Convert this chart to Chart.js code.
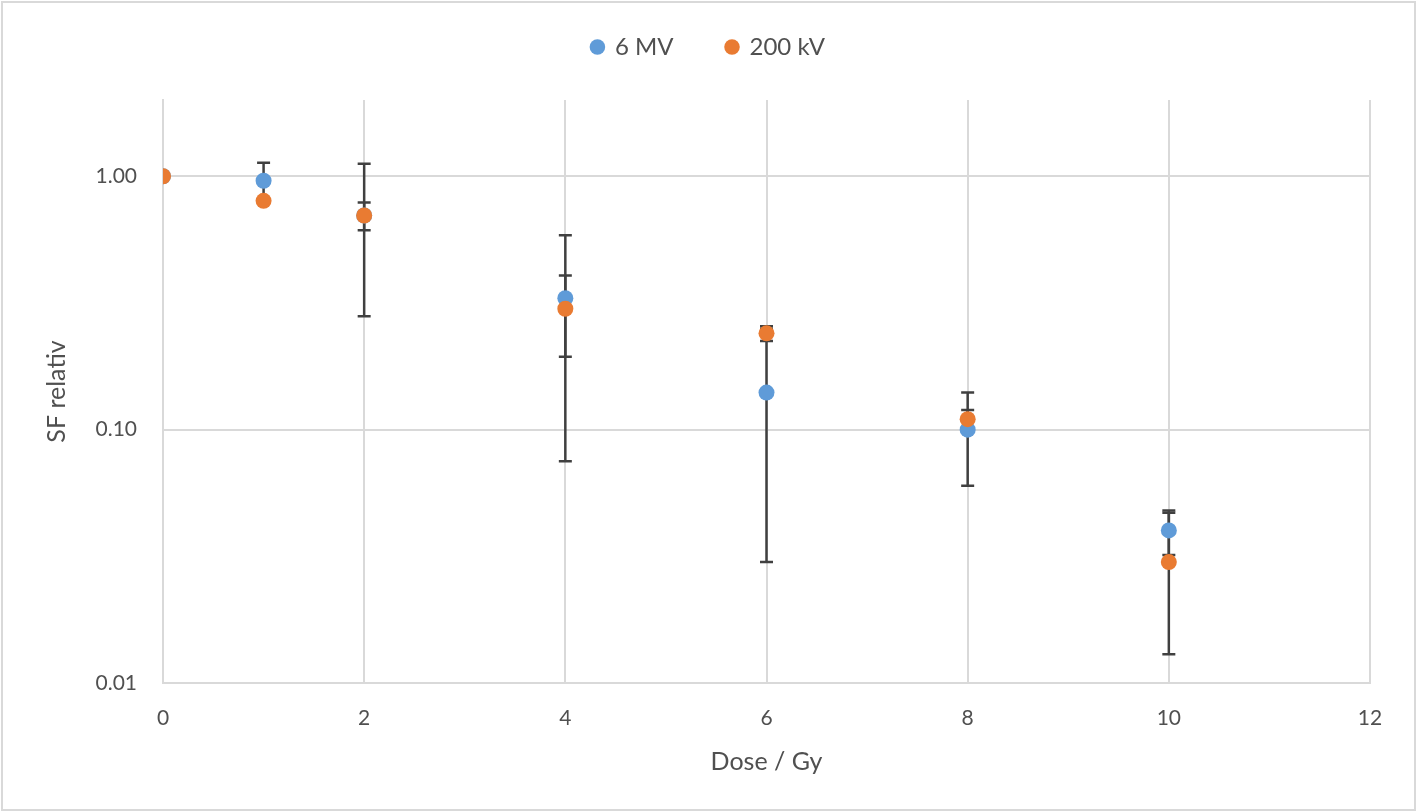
<!DOCTYPE html>
<html><head><meta charset="utf-8">
<script src="https://cdn.jsdelivr.net/npm/chart.js@4.4.1/dist/chart.umd.min.js"></script>
<style>html,body{margin:0;padding:0;background:#fff;}#wrap{width:1417px;height:812px;position:relative;}</style>
</head><body><div id="wrap"><canvas id="c" width="1417" height="812"></canvas></div>
<script>
// ---- data ----
const doses = [0, 1, 2, 4, 6, 8, 10];
const sf6MV = [1.00, 0.96, 0.70, 0.33, 0.14, 0.10, 0.040];
const err6MV = [0, 0.17, 0.42, 0.255, 0.11, 0.040, 0.008];
const sf200kV = [1.00, 0.80, 0.70, 0.30, 0.24, 0.110, 0.030];
const err200kV = [0, 0, 0.088, 0.106, 0.016, 0.0095, 0.017];
const seriesNames = ['6 MV', '200 kV'];
const xTicks = [0, 2, 4, 6, 8, 10, 12];
const yTicks = [0.01, 0.1, 1];
const xTitle = 'Dose / Gy';
const yTitle = 'SF relativ';

const textColor = '#505050';
const gridColor = '#d9d9d9';
Chart.defaults.font.family = 'Lato, "Open Sans", sans-serif';
Chart.defaults.color = textColor;

const toPoints = (xs, ys) => xs.map((x, i) => ({x: x, y: ys[i]}));

const errorBars = {
  id: 'errorBars',
  beforeDatasetsDraw(chart) {
    const {ctx, scales: {x, y}} = chart;
    ctx.save();
    ctx.strokeStyle = '#404040';
    ctx.lineWidth = 2.5;
    chart.data.datasets.forEach(ds => {
      ds.data.forEach((p, i) => {
        const e = ds.errors[i];
        if (!e) return;
        const px = x.getPixelForValue(p.x);
        const yt = y.getPixelForValue(p.y + e);
        const yb = y.getPixelForValue(p.y - e);
        ctx.beginPath();
        ctx.moveTo(px, yt); ctx.lineTo(px, yb);
        ctx.moveTo(px - 6.5, yt); ctx.lineTo(px + 6.5, yt);
        ctx.moveTo(px - 6.5, yb); ctx.lineTo(px + 6.5, yb);
        ctx.stroke();
      });
    });
    ctx.restore();
  }
};

const frame = {
  id: 'frame',
  beforeDraw(chart) {
    const ctx = chart.ctx;
    ctx.save();
    ctx.fillStyle = '#ffffff';
    ctx.fillRect(0, 0, chart.width, chart.height);
    ctx.strokeStyle = '#d9d9d9';
    ctx.lineWidth = 2;
    ctx.strokeRect(2, 2, chart.width - 4, chart.height - 4);
    ctx.restore();
  }
};

const legendHeight = {
  id: 'legendHeight',
  afterInit(chart) {
    const lg = chart.legend;
    const origFit = lg.fit;
    lg.fit = function () { origFit.call(this); this.height = 118; };
  }
};

new Chart(document.getElementById('c'), {
  type: 'scatter',
  data: {
    datasets: [
      {label: seriesNames[0], data: toPoints(doses, sf6MV), errors: err6MV,
       backgroundColor: '#5f9bd8', borderColor: '#5f9bd8', pointRadius: 8, pointHoverRadius: 8,
       pointStyle: 'circle', borderWidth: 0, order: 2},
      {label: seriesNames[1], data: toPoints(doses, sf200kV), errors: err200kV,
       backgroundColor: '#e97b32', borderColor: '#e97b32', pointRadius: 8, pointHoverRadius: 8,
       pointStyle: 'circle', borderWidth: 0, order: 1}
    ]
  },
  options: {
    responsive: false,
    animation: false,
    devicePixelRatio: 1,
    layout: {padding: {left: 0, right: 0, top: -18, bottom: 0}},
    plugins: {
      tooltip: {enabled: false},
      legend: {
        position: 'top',
        labels: {usePointStyle: true, pointStyle: 'circle', boxWidth: 11, boxHeight: 11,
                 padding: 53, font: {size: 24}, color: textColor,
                 sort: (a, b) => a.datasetIndex - b.datasetIndex}
      }
    },
    scales: {
      x: {
        type: 'linear', min: 0, max: 12,
        afterBuildTicks: s => { s.ticks = xTicks.map(v => ({value: v})); },
        afterFit: s => { s.height = 129; },
        grid: {color: gridColor, lineWidth: 2, drawTicks: false},
        border: {color: gridColor, width: 2},
        ticks: {padding: 23, font: {size: 21}, color: textColor},
        title: {display: true, text: xTitle, font: {size: 25}, color: textColor, padding: {top: 0, bottom: 35}}
      },
      y: {
        type: 'logarithmic', min: 0.01, max: 2,
        afterBuildTicks: s => { s.ticks = yTicks.map(v => ({value: v})); },
        afterFit: s => { s.width = 163; },
        grid: {color: gridColor, lineWidth: 2, drawTicks: false},
        border: {color: gridColor, width: 2},
        ticks: {padding: 26, font: {size: 21}, color: textColor, callback: v => Number(v).toFixed(2)},
        title: {display: true, text: yTitle, font: {size: 25}, color: textColor, padding: {top: 42, bottom: 0}}
      },
      pad: {
        type: 'linear', position: 'right', display: true,
        afterFit: s => { s.width = 47; },
        grid: {display: false, drawTicks: false}, border: {display: false},
        ticks: {display: false}
      }
    }
  },
  plugins: [errorBars, frame, legendHeight]
});
</script></body></html>
